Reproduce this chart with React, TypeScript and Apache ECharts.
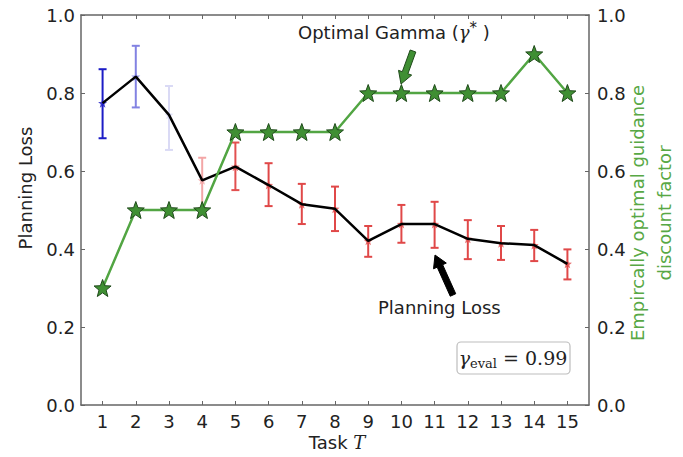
import React, { useEffect, useRef } from "react";
import * as echarts from "echarts";

const tasks = [1, 2, 3, 4, 5, 6, 7, 8, 9, 10, 11, 12, 13, 14, 15];
const lossMean = [0.774, 0.842, 0.744, 0.576, 0.611, 0.564, 0.515, 0.503, 0.421, 0.464, 0.464, 0.426, 0.415, 0.41, 0.362];
const lossUpper = [0.861, 0.921, 0.818, 0.634, 0.673, 0.62, 0.567, 0.56, 0.459, 0.513, 0.521, 0.474, 0.459, 0.449, 0.399];
const lossLower = [0.684, 0.763, 0.654, 0.505, 0.551, 0.51, 0.464, 0.446, 0.38, 0.416, 0.403, 0.374, 0.372, 0.369, 0.322];
const barColors = [
  "#1c1cc6", "#8282e2", "#dadaf5", "#f3a6a6", "#e25050", "#e04848", "#e04848", "#e04848",
  "#e04848", "#e04848", "#e04848", "#e04848", "#e04848", "#e04848", "#e04848",
];
const gammaStar = [0.3, 0.5, 0.5, 0.5, 0.7, 0.7, 0.7, 0.7, 0.8, 0.8, 0.8, 0.8, 0.8, 0.9, 0.8];

function starPath(): string {
  const pts: string[] = [];
  for (let i = 0; i < 10; i++) {
    const r = i % 2 === 0 ? 10 : 4.2;
    const a = -Math.PI / 2 + (i * Math.PI) / 5;
    pts.push(`${(10 + r * Math.cos(a)).toFixed(2)} ${(10 + r * Math.sin(a)).toFixed(2)}`);
  }
  return "path://M" + pts.join(" L") + " Z";
}

function arrowPoly(tail: number[], tip: number[], shaftW: number, headW: number, headL: number) {
  const dx = tip[0] - tail[0];
  const dy = tip[1] - tail[1];
  const len = Math.hypot(dx, dy);
  const ux = dx / len, uy = dy / len;
  const nx = -uy, ny = ux;
  const bx = tip[0] - ux * headL, by = tip[1] - uy * headL;
  return [
    [tail[0] + (nx * shaftW) / 2, tail[1] + (ny * shaftW) / 2],
    [bx + (nx * shaftW) / 2, by + (ny * shaftW) / 2],
    [bx + (nx * headW) / 2, by + (ny * headW) / 2],
    [tip[0], tip[1]],
    [bx - (nx * headW) / 2, by - (ny * headW) / 2],
    [bx - (nx * shaftW) / 2, by - (ny * shaftW) / 2],
    [tail[0] - (nx * shaftW) / 2, tail[1] - (ny * shaftW) / 2],
  ];
}

const FONT = "DejaVu Sans";
const GREEN_TEXT = "#58a845";
const FRAME = "#666666";

export default function App() {
  const ref = useRef<HTMLDivElement>(null);
  useEffect(() => {
    if (!ref.current) return;
    const chart = echarts.init(ref.current, null, { renderer: "svg" });
    const star = starPath();
    const xCommon = {
      type: "value" as const,
      min: 0.35,
      max: 15.65,
      splitLine: { show: false },
      axisLine: { show: true, onZero: false, lineStyle: { color: FRAME, width: 1.5 } },
    };
    const yCommon = {
      type: "value" as const,
      min: 0,
      max: 1,
      interval: 0.2,
      splitLine: { show: false },
      axisLine: { show: true, lineStyle: { color: FRAME, width: 1.5 } },
      axisTick: { show: true, inside: true, length: 4, lineStyle: { color: FRAME } },
      axisLabel: {
        fontFamily: FONT,
        fontSize: 18,
        color: "#222",
        formatter: (v: number) => v.toFixed(1),
      },
    };
    chart.setOption({
      animation: false,
      grid: { left: 81, right: 94, top: 15, bottom: 52, containLabel: false },
      xAxis: [
        {
          ...xCommon,
          position: "bottom",
          axisTick: { show: true, inside: true, length: 4, customValues: tasks, lineStyle: { color: FRAME } },
          axisLabel: { customValues: tasks, fontFamily: FONT, fontSize: 18, color: "#222", margin: 7 },
        },
        {
          ...xCommon,
          position: "top",
          axisTick: { show: true, inside: true, length: 4, customValues: tasks, lineStyle: { color: FRAME } },
          axisLabel: { show: false },
        },
      ],
      yAxis: [
        { ...yCommon, position: "left", axisLabel: { ...yCommon.axisLabel, margin: 6 } },
        { ...yCommon, position: "right", axisLabel: { ...yCommon.axisLabel, margin: 8 } },
      ],
      series: [
        {
          type: "custom",
          xAxisIndex: 0,
          yAxisIndex: 0,
          z: 2,
          data: tasks.map((t, i) => [t, lossLower[i], lossUpper[i]]),
          renderItem: (params: any, api: any) => {
            const x = api.value(0);
            const lo = api.coord([x, api.value(1)]);
            const hi = api.coord([x, api.value(2)]);
            const color = barColors[params.dataIndex];
            const cap = 4;
            const style = { stroke: color, lineWidth: 2 };
            return {
              type: "group",
              children: [
                { type: "line", shape: { x1: lo[0], y1: lo[1], x2: hi[0], y2: hi[1] }, style },
                { type: "line", shape: { x1: lo[0] - cap, y1: lo[1], x2: lo[0] + cap, y2: lo[1] }, style },
                { type: "line", shape: { x1: hi[0] - cap, y1: hi[1], x2: hi[0] + cap, y2: hi[1] }, style },
              ],
            };
          },
        },
        {
          type: "scatter",
          xAxisIndex: 0,
          yAxisIndex: 0,
          z: 3,
          symbol: star,
          symbolSize: 9,
          data: tasks.map((t, i) => ({ value: [t, lossMean[i]], itemStyle: { color: barColors[i] } })),
        },
        {
          type: "line",
          xAxisIndex: 0,
          yAxisIndex: 0,
          z: 4,
          showSymbol: false,
          lineStyle: { color: "#000", width: 2.5 },
          data: tasks.map((t, i) => [t, lossMean[i]]),
        },
        {
          type: "line",
          xAxisIndex: 0,
          yAxisIndex: 1,
          z: 5,
          symbol: star,
          symbolSize: 17,
          showAllSymbol: true,
          lineStyle: { color: "#52a543", width: 2.5 },
          itemStyle: { color: "#3f8f33", borderColor: "#1f4a1a", borderWidth: 1 },
          data: tasks.map((t, i) => [t, gammaStar[i]]),
        },
      ],
      graphic: [
        {
          type: "text",
          rotation: Math.PI / 2,
          x: 25,
          y: 188,
          style: {
            text: "Planning Loss",
            font: `18px "${FONT}"`,
            fill: "#222",
            align: "center",
            verticalAlign: "middle",
          },
        },
        {
          type: "text",
          rotation: Math.PI / 2,
          x: 651,
          y: 213,
          style: {
            text: "Empircally optimal guidance\ndiscount factor",
            font: `18px "${FONT}"`,
            fill: GREEN_TEXT,
            align: "center",
            verticalAlign: "middle",
            lineHeight: 27,
          },
        },
        {
          type: "text",
          x: 337,
          y: 442,
          style: {
            text: "{a|Task }{b|T}",
            align: "center",
            verticalAlign: "middle",
            rich: {
              a: { fontFamily: FONT, fontSize: 18, fill: "#222" },
              b: { fontFamily: "DejaVu Serif", fontStyle: "italic", fontSize: 18, fill: "#222" },
            },
          },
        },
        {
          type: "text",
          x: 298,
          y: 32,
          style: {
            text: "{a|Optimal Gamma (}{g|γ}{s|*}{a| )}",
            align: "left",
            verticalAlign: "middle",
            rich: {
              a: { fontFamily: FONT, fontSize: 18, fill: "#222", lineHeight: 24 },
              g: { fontFamily: "DejaVu Serif", fontStyle: "italic", fontSize: 18, fill: "#222", lineHeight: 24 },
              s: { fontFamily: FONT, fontSize: 15, fill: "#222", lineHeight: 24, verticalAlign: "top" },
            },
          },
        },
        {
          type: "text",
          x: 378,
          y: 307,
          style: {
            text: "Planning Loss",
            font: `18px "${FONT}"`,
            fill: "#222",
            align: "left",
            verticalAlign: "middle",
          },
        },
        {
          type: "polygon",
          shape: { points: arrowPoly([413, 51], [401, 84], 6, 14, 12) },
          style: { fill: "#3f8f33", stroke: "#1f4a1a", lineWidth: 1 },
          z: 10,
        },
        {
          type: "polygon",
          shape: { points: arrowPoly([453, 295], [435, 255], 6, 14, 12) },
          style: { fill: "#000", stroke: "#000", lineWidth: 1 },
          z: 10,
        },
        {
          type: "rect",
          shape: { x: 457, y: 342, width: 113, height: 32, r: 4 },
          style: { fill: "#fff", stroke: "#bdbdbd", lineWidth: 1.2 },
          z: 10,
        },
        {
          type: "text",
          x: 513,
          y: 358,
          z: 11,
          style: {
            text: "{g|γ}{e|eval}{q| = 0.99}",
            align: "center",
            verticalAlign: "middle",
            rich: {
              g: { fontFamily: "DejaVu Serif", fontStyle: "italic", fontSize: 19, fill: "#222", lineHeight: 24 },
              e: { fontFamily: "DejaVu Serif", fontSize: 13, fill: "#222", lineHeight: 24, verticalAlign: "bottom" },
              q: { fontFamily: "DejaVu Serif", fontSize: 19, fill: "#222", lineHeight: 24 },
            },
          },
        },
      ],
    });
    return () => chart.dispose();
  }, []);
  return <div ref={ref} style={{ width: 683, height: 457, margin: -8 }} />;
}
